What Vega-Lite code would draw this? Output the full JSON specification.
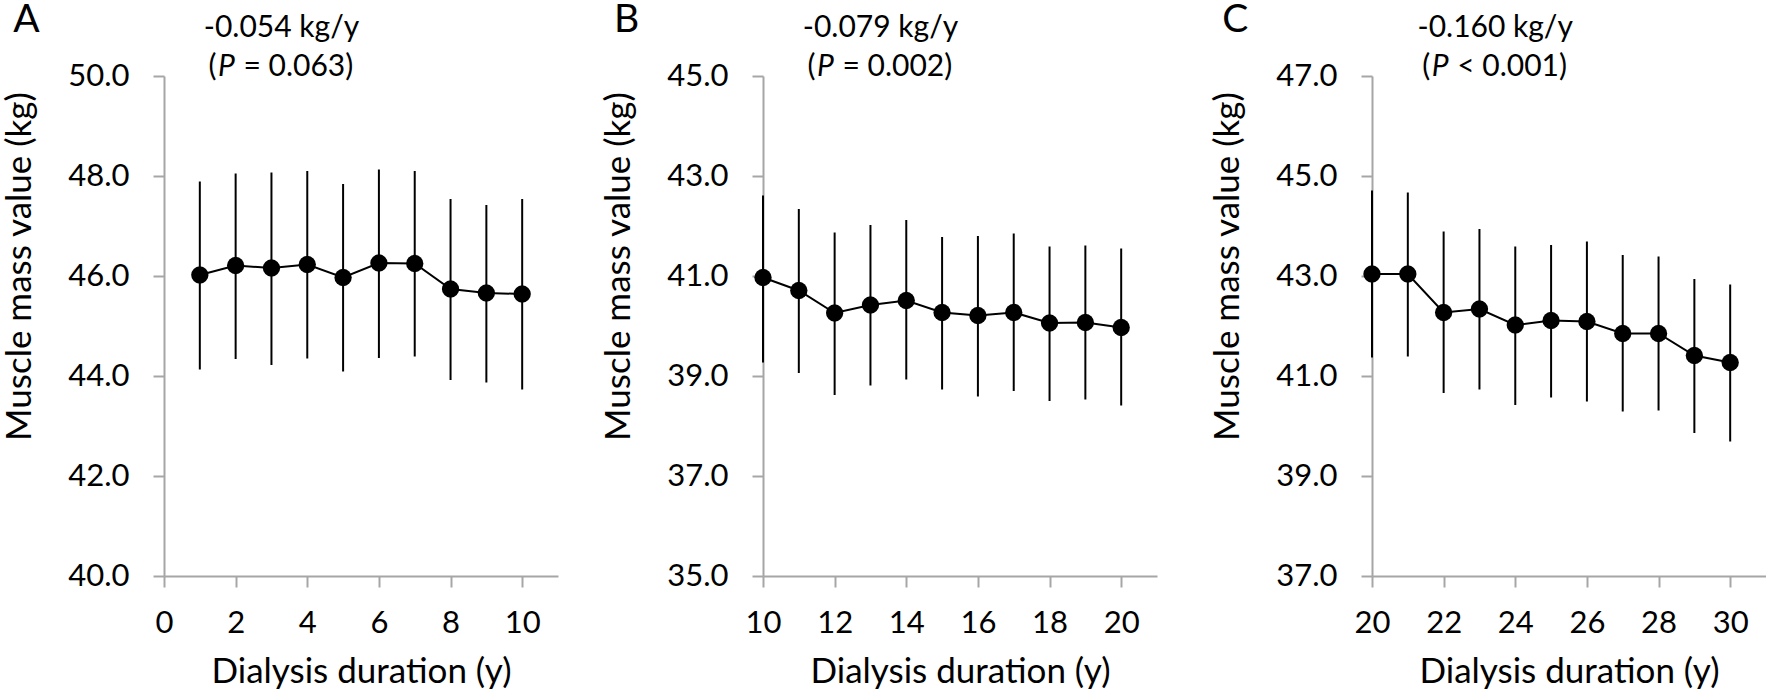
{
  "$schema": "https://vega.github.io/schema/vega-lite/v6.json",
  "background": "white",
  "padding": {"left": 1, "top": 1, "right": 0, "bottom": 0},
  "config": {
    "view": {"stroke": null},
    "font": "Lato",
    "axis": {
      "domainColor": "#a6a6a6", "domainWidth": 2,
      "tickColor": "#a6a6a6", "tickWidth": 2,
      "grid": false,
      "labelFont": "Lato", "labelFontSize": 31, "labelColor": "#000000",
      "titleFont": "Lato", "titleFontSize": 35, "titleFontWeight": "normal", "titleColor": "#000000",
      "labelOverlap": false, "labelBound": false, "labelFlush": false
    },
    "axisX": {
      "tickSize": {"condition": {"test": "datum.value % 2 === 0", "value": 11}, "value": 7},
      "labelPadding": 21, "titleY": 106, "titleBaseline": "alphabetic",
      "labelExpr": "datum.value % 2 === 0 ? datum.label : ''"
    },
    "axisY": {
      "tickSize": 11, "labelPadding": 24, "format": ".1f",
      "titleX": -134, "titleY": 190, "titleBaseline": "alphabetic", "titleAlign": "center"
    }
  },
  "datasets": {
    "pts": [
      {"panel": "A", "year": 1, "mean": 46.02, "lo": 44.13, "hi": 47.89},
      {"panel": "A", "year": 2, "mean": 46.21, "lo": 44.34, "hi": 48.05},
      {"panel": "A", "year": 3, "mean": 46.16, "lo": 44.22, "hi": 48.07},
      {"panel": "A", "year": 4, "mean": 46.23, "lo": 44.35, "hi": 48.10},
      {"panel": "A", "year": 5, "mean": 45.97, "lo": 44.09, "hi": 47.84},
      {"panel": "A", "year": 6, "mean": 46.26, "lo": 44.36, "hi": 48.13},
      {"panel": "A", "year": 7, "mean": 46.25, "lo": 44.39, "hi": 48.10},
      {"panel": "A", "year": 8, "mean": 45.74, "lo": 43.92, "hi": 47.54},
      {"panel": "A", "year": 9, "mean": 45.66, "lo": 43.87, "hi": 47.42},
      {"panel": "A", "year": 10, "mean": 45.64, "lo": 43.73, "hi": 47.54},
      {"panel": "B", "year": 10, "mean": 40.97, "lo": 39.27, "hi": 42.61},
      {"panel": "B", "year": 11, "mean": 40.71, "lo": 39.06, "hi": 42.34},
      {"panel": "B", "year": 12, "mean": 40.26, "lo": 38.62, "hi": 41.87},
      {"panel": "B", "year": 13, "mean": 40.42, "lo": 38.81, "hi": 42.02},
      {"panel": "B", "year": 14, "mean": 40.51, "lo": 38.93, "hi": 42.12},
      {"panel": "B", "year": 15, "mean": 40.27, "lo": 38.73, "hi": 41.78},
      {"panel": "B", "year": 16, "mean": 40.21, "lo": 38.59, "hi": 41.80},
      {"panel": "B", "year": 17, "mean": 40.27, "lo": 38.70, "hi": 41.85},
      {"panel": "B", "year": 18, "mean": 40.06, "lo": 38.50, "hi": 41.59},
      {"panel": "B", "year": 19, "mean": 40.07, "lo": 38.53, "hi": 41.61},
      {"panel": "B", "year": 20, "mean": 39.97, "lo": 38.41, "hi": 41.55},
      {"panel": "C", "year": 20, "mean": 43.04, "lo": 41.37, "hi": 44.71},
      {"panel": "C", "year": 21, "mean": 43.04, "lo": 41.39, "hi": 44.67},
      {"panel": "C", "year": 22, "mean": 42.27, "lo": 40.66, "hi": 43.89},
      {"panel": "C", "year": 23, "mean": 42.34, "lo": 40.73, "hi": 43.94},
      {"panel": "C", "year": 24, "mean": 42.02, "lo": 40.42, "hi": 43.59},
      {"panel": "C", "year": 25, "mean": 42.11, "lo": 40.57, "hi": 43.62},
      {"panel": "C", "year": 26, "mean": 42.09, "lo": 40.49, "hi": 43.69},
      {"panel": "C", "year": 27, "mean": 41.85, "lo": 40.29, "hi": 43.42},
      {"panel": "C", "year": 28, "mean": 41.85, "lo": 40.31, "hi": 43.39},
      {"panel": "C", "year": 29, "mean": 41.41, "lo": 39.86, "hi": 42.94},
      {"panel": "C", "year": 30, "mean": 41.27, "lo": 39.69, "hi": 42.83}
    ],
    "notes": [
      {"panel": "A", "letter": "A", "slope": "-0.054 kg/y", "open": "(", "p": "P", "rest": "= 0.063)"},
      {"panel": "B", "letter": "B", "slope": "-0.079 kg/y", "open": "(", "p": "P", "rest": "= 0.002)"},
      {"panel": "C", "letter": "C", "slope": "-0.160 kg/y", "open": "(", "p": "P", "rest": "< 0.001)"}
    ]
  },
  "bounds": "flush",
  "spacing": 205,
  "hconcat": [
    {
      "width": 394, "height": 500,
      "layer": [
        {
          "data": {"name": "pts"}, "transform": [{"filter": "datum.panel === 'A'"}],
          "mark": {"type": "rule", "color": "#000000", "strokeWidth": 2},
          "encoding": {
            "x": {"field": "year", "type": "quantitative", "scale": {"domain": [0, 11], "nice": false, "zero": false},
                  "axis": {"values": [0,1,2,3,4,5,6,7,8,9,10,11], "title": "Dialysis duration (y)"}},
            "y": {"field": "lo", "type": "quantitative", "scale": {"domain": [40, 50], "nice": false, "zero": false},
                  "axis": {"values": [40,42,44,46,48,50], "title": "Muscle mass value (kg)"}},
            "y2": {"field": "hi"}
          }
        },
        {
          "data": {"name": "pts"}, "transform": [{"filter": "datum.panel === 'A'"}],
          "mark": {"type": "line", "color": "#000000", "strokeWidth": 2},
          "encoding": {
            "x": {"field": "year", "type": "quantitative"},
            "y": {"field": "mean", "type": "quantitative", "title": "Muscle mass value (kg)"}
          }
        },
        {
          "data": {"name": "pts"}, "transform": [{"filter": "datum.panel === 'A'"}],
          "mark": {"type": "circle", "color": "#000000", "opacity": 1, "size": 300},
          "encoding": {
            "x": {"field": "year", "type": "quantitative"},
            "y": {"field": "mean", "type": "quantitative", "title": "Muscle mass value (kg)"}
          }
        },
        {
          "data": {"name": "notes"}, "transform": [{"filter": "datum.panel === 'A'"}],
          "layer": [
            {"mark": {"type": "text", "fontSize": 30, "align": "center", "baseline": "alphabetic", "color": "#000000"},
             "encoding": {"x": {"datum": 3.28, "type": "quantitative"}, "y": {"datum": 50.78, "type": "quantitative"}, "text": {"field": "slope"}}},
            {"mark": {"type": "text", "fontSize": 30, "align": "left", "baseline": "alphabetic", "dx": -73, "color": "#000000"},
             "encoding": {"x": {"datum": 3.28, "type": "quantitative"}, "y": {"datum": 50, "type": "quantitative"}, "text": {"field": "open"}}},
            {"mark": {"type": "text", "fontSize": 30, "align": "center", "baseline": "alphabetic", "dx": -55, "fontStyle": "italic", "color": "#000000"},
             "encoding": {"x": {"datum": 3.28, "type": "quantitative"}, "y": {"datum": 50, "type": "quantitative"}, "text": {"field": "p"}}},
            {"mark": {"type": "text", "fontSize": 30, "align": "left", "baseline": "alphabetic", "dx": -38, "color": "#000000"},
             "encoding": {"x": {"datum": 3.28, "type": "quantitative"}, "y": {"datum": 50, "type": "quantitative"}, "text": {"field": "rest"}}},
            {"mark": {"type": "text", "fontSize": 39, "align": "left", "baseline": "alphabetic", "color": "#000000"},
             "encoding": {"x": {"datum": -4.21, "type": "quantitative"}, "y": {"datum": 50.874, "type": "quantitative"}, "text": {"field": "letter"}}}
          ]
        }
      ]
    },
    {
      "bounds": "flush",
      "spacing": 215,
      "hconcat": [
        {
          "width": 394, "height": 500,
          "layer": [
            {
              "data": {"name": "pts"}, "transform": [{"filter": "datum.panel === 'B'"}],
              "mark": {"type": "rule", "color": "#000000", "strokeWidth": 2},
              "encoding": {
                "x": {"field": "year", "type": "quantitative", "scale": {"domain": [10, 21], "nice": false, "zero": false},
                      "axis": {"values": [10,11,12,13,14,15,16,17,18,19,20,21], "title": "Dialysis duration (y)"}},
                "y": {"field": "lo", "type": "quantitative", "scale": {"domain": [35, 45], "nice": false, "zero": false},
                      "axis": {"values": [35,37,39,41,43,45], "title": "Muscle mass value (kg)"}},
                "y2": {"field": "hi"}
              }
            },
            {
              "data": {"name": "pts"}, "transform": [{"filter": "datum.panel === 'B'"}],
              "mark": {"type": "line", "color": "#000000", "strokeWidth": 2},
              "encoding": {
                "x": {"field": "year", "type": "quantitative"},
                "y": {"field": "mean", "type": "quantitative", "title": "Muscle mass value (kg)"}
              }
            },
            {
              "data": {"name": "pts"}, "transform": [{"filter": "datum.panel === 'B'"}],
              "mark": {"type": "circle", "color": "#000000", "opacity": 1, "size": 300},
              "encoding": {
                "x": {"field": "year", "type": "quantitative"},
                "y": {"field": "mean", "type": "quantitative", "title": "Muscle mass value (kg)"}
              }
            },
            {
              "data": {"name": "notes"}, "transform": [{"filter": "datum.panel === 'B'"}],
              "layer": [
                {"mark": {"type": "text", "fontSize": 30, "align": "center", "baseline": "alphabetic", "color": "#000000"},
                 "encoding": {"x": {"datum": 13.28, "type": "quantitative"}, "y": {"datum": 45.78, "type": "quantitative"}, "text": {"field": "slope"}}},
                {"mark": {"type": "text", "fontSize": 30, "align": "left", "baseline": "alphabetic", "dx": -73, "color": "#000000"},
                 "encoding": {"x": {"datum": 13.28, "type": "quantitative"}, "y": {"datum": 45, "type": "quantitative"}, "text": {"field": "open"}}},
                {"mark": {"type": "text", "fontSize": 30, "align": "center", "baseline": "alphabetic", "dx": -55, "fontStyle": "italic", "color": "#000000"},
                 "encoding": {"x": {"datum": 13.28, "type": "quantitative"}, "y": {"datum": 45, "type": "quantitative"}, "text": {"field": "p"}}},
                {"mark": {"type": "text", "fontSize": 30, "align": "left", "baseline": "alphabetic", "dx": -38, "color": "#000000"},
                 "encoding": {"x": {"datum": 13.28, "type": "quantitative"}, "y": {"datum": 45, "type": "quantitative"}, "text": {"field": "rest"}}},
                {"mark": {"type": "text", "fontSize": 39, "align": "left", "baseline": "alphabetic", "color": "#000000"},
                 "encoding": {"x": {"datum": 5.84, "type": "quantitative"}, "y": {"datum": 45.874, "type": "quantitative"}, "text": {"field": "letter"}}}
              ]
            }
          ]
        },
        {
          "width": 394, "height": 500,
          "layer": [
            {
              "data": {"name": "pts"}, "transform": [{"filter": "datum.panel === 'C'"}],
              "mark": {"type": "rule", "color": "#000000", "strokeWidth": 2},
              "encoding": {
                "x": {"field": "year", "type": "quantitative", "scale": {"domain": [20, 31], "nice": false, "zero": false},
                      "axis": {"values": [20,21,22,23,24,25,26,27,28,29,30,31], "title": "Dialysis duration (y)"}},
                "y": {"field": "lo", "type": "quantitative", "scale": {"domain": [37, 47], "nice": false, "zero": false},
                      "axis": {"values": [37,39,41,43,45,47], "title": "Muscle mass value (kg)"}},
                "y2": {"field": "hi"}
              }
            },
            {
              "data": {"name": "pts"}, "transform": [{"filter": "datum.panel === 'C'"}],
              "mark": {"type": "line", "color": "#000000", "strokeWidth": 2},
              "encoding": {
                "x": {"field": "year", "type": "quantitative"},
                "y": {"field": "mean", "type": "quantitative", "title": "Muscle mass value (kg)"}
              }
            },
            {
              "data": {"name": "pts"}, "transform": [{"filter": "datum.panel === 'C'"}],
              "mark": {"type": "circle", "color": "#000000", "opacity": 1, "size": 300},
              "encoding": {
                "x": {"field": "year", "type": "quantitative"},
                "y": {"field": "mean", "type": "quantitative", "title": "Muscle mass value (kg)"}
              }
            },
            {
              "data": {"name": "notes"}, "transform": [{"filter": "datum.panel === 'C'"}],
              "layer": [
                {"mark": {"type": "text", "fontSize": 30, "align": "center", "baseline": "alphabetic", "color": "#000000"},
                 "encoding": {"x": {"datum": 23.44, "type": "quantitative"}, "y": {"datum": 47.78, "type": "quantitative"}, "text": {"field": "slope"}}},
                {"mark": {"type": "text", "fontSize": 30, "align": "left", "baseline": "alphabetic", "dx": -73, "color": "#000000"},
                 "encoding": {"x": {"datum": 23.44, "type": "quantitative"}, "y": {"datum": 47, "type": "quantitative"}, "text": {"field": "open"}}},
                {"mark": {"type": "text", "fontSize": 30, "align": "center", "baseline": "alphabetic", "dx": -55, "fontStyle": "italic", "color": "#000000"},
                 "encoding": {"x": {"datum": 23.44, "type": "quantitative"}, "y": {"datum": 47, "type": "quantitative"}, "text": {"field": "p"}}},
                {"mark": {"type": "text", "fontSize": 30, "align": "left", "baseline": "alphabetic", "dx": -38, "color": "#000000"},
                 "encoding": {"x": {"datum": 23.44, "type": "quantitative"}, "y": {"datum": 47, "type": "quantitative"}, "text": {"field": "rest"}}},
                {"mark": {"type": "text", "fontSize": 39, "align": "left", "baseline": "alphabetic", "color": "#000000"},
                 "encoding": {"x": {"datum": 15.82, "type": "quantitative"}, "y": {"datum": 47.874, "type": "quantitative"}, "text": {"field": "letter"}}}
              ]
            }
          ]
        }
      ]
    }
  ]
}
